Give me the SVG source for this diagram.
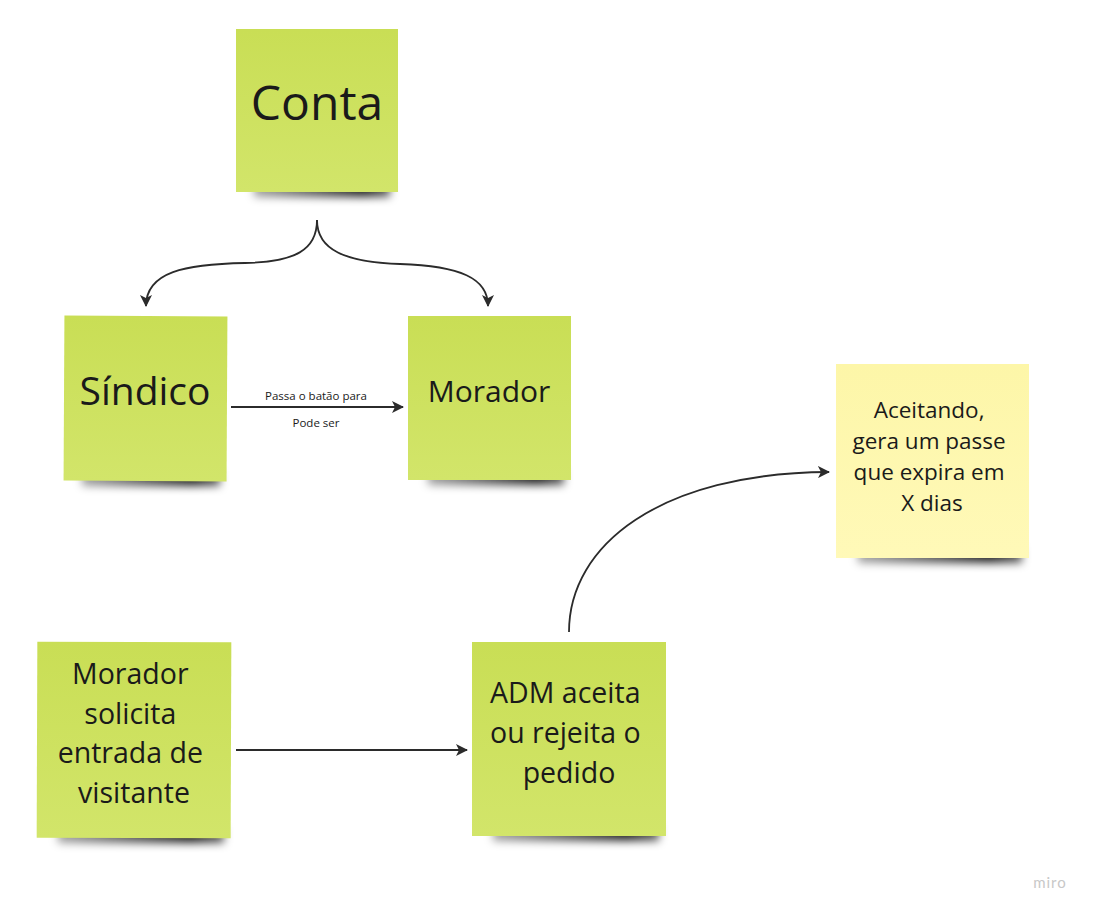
<svg xmlns="http://www.w3.org/2000/svg" width="1093" height="914" viewBox="0 0 1093 914">
<defs>
<linearGradient id="g" x1="0" y1="0" x2="0" y2="1">
<stop offset="0" stop-color="#c9de55"/>
<stop offset="1" stop-color="#d2e56a"/>
</linearGradient>
<linearGradient id="y" x1="0" y1="0" x2="0" y2="1">
<stop offset="0" stop-color="#fdf6a8"/>
<stop offset="1" stop-color="#fff9b8"/>
</linearGradient>
<linearGradient id="sg" x1="0" y1="0" x2="1" y2="0">
<stop offset="0" stop-color="#000" stop-opacity="0.35"/>
<stop offset="0.8" stop-color="#000" stop-opacity="0.85"/>
<stop offset="1" stop-color="#000" stop-opacity="0.6"/>
</linearGradient>
<filter id="sh" x="-20%" y="-100%" width="140%" height="300%">
<feGaussianBlur stdDeviation="4.5"/>
</filter>
<marker id="arrd" viewBox="0 0 12 12" refX="11" refY="6" markerWidth="12" markerHeight="12" markerUnits="userSpaceOnUse" orient="auto">
<path d="M0,0 L12,6 L0,12 L3,6 Z" fill="#2b2b2b"/>
</marker>
</defs>
<style>
.shadow{fill:url(#sg);filter:url(#sh)}
.green{fill:url(#g)}
.yellow{fill:url(#y)}
.t{font-family:"Open Sans","Noto Sans",sans-serif;fill:#1a1a1a;text-anchor:middle}
.c{fill:none;stroke:#2b2b2b;stroke-width:1.8}
.lbl{font-family:"Open Sans","Noto Sans",sans-serif;fill:#1a1a1a;text-anchor:middle;font-size:11.5px}
</style>
<rect width="1093" height="914" fill="#ffffff"/>

<g id="conta">
<rect class="shadow" x="254" y="182" width="136" height="15"/>
<rect class="green" x="236" y="29" width="162" height="163"/>
<text class="t" x="317" y="120" font-size="48">Conta</text>
</g>

<g id="sindico">
<rect class="shadow" x="82" y="471" width="138" height="15"/>
<rect class="green" x="64" y="316" width="163" height="165" transform="rotate(0.3 145 398)"/>
<text class="t" x="145" y="405" font-size="39">Síndico</text>
</g>

<g id="morador">
<rect class="shadow" x="428" y="470" width="136" height="15"/>
<rect class="green" x="408" y="316" width="163" height="164"/>
<text class="t" x="489" y="402" font-size="30">Morador</text>
</g>

<g id="aceitando">
<rect class="shadow" x="858" y="547" width="164" height="16"/>
<rect class="yellow" x="836" y="364" width="193" height="194"/>
<text class="t" font-size="22.5">
<tspan x="932" y="418">Aceitando,</tspan>
<tspan x="932" y="449">gera um passe</tspan>
<tspan x="932" y="480">que expira em</tspan>
<tspan x="932" y="511">X dias</tspan>
</text>
</g>

<g id="solicita">
<rect class="shadow" x="58" y="827" width="166" height="16"/>
<rect class="green" x="37" y="642" width="194" height="196" transform="rotate(0.2 134 740)"/>
<text class="t" font-size="28.5">
<tspan x="134" y="684">Morador</tspan>
<tspan x="134" y="724">solicita</tspan>
<tspan x="134" y="763">entrada de</tspan>
<tspan x="134" y="803">visitante</tspan>
</text>
</g>

<g id="adm">
<rect class="shadow" x="493" y="825" width="166" height="16"/>
<rect class="green" x="472" y="642" width="194" height="194"/>
<text class="t" font-size="28.5">
<tspan x="569" y="703">ADM aceita</tspan>
<tspan x="569" y="743">ou rejeita o</tspan>
<tspan x="569" y="783">pedido</tspan>
</text>
</g>

<g id="connectors">
<path class="c" d="M317,220 C317,250 295,262 245,263 C185,264 146,272 146,306" marker-end="url(#arrd)"/>
<path class="c" d="M317,220 C317,250 345,262 400,264 C460,266 488,278 488,306" marker-end="url(#arrd)"/>
<path class="c" d="M231,407 L403,407" marker-end="url(#arrd)"/>
<text class="lbl" x="316" y="400">Passa o batão para</text>
<text class="lbl" x="316" y="427">Pode ser</text>
<path class="c" d="M236,750 L467,750" marker-end="url(#arrd)"/>
<path class="c" d="M569,632 C569,545 660,473 829,472" marker-end="url(#arrd)"/>
</g>

<text x="1050" y="888" font-family="Lato, 'Open Sans', sans-serif" font-size="15" fill="#c8c8c8" text-anchor="middle" letter-spacing="1">miro</text>
</svg>
